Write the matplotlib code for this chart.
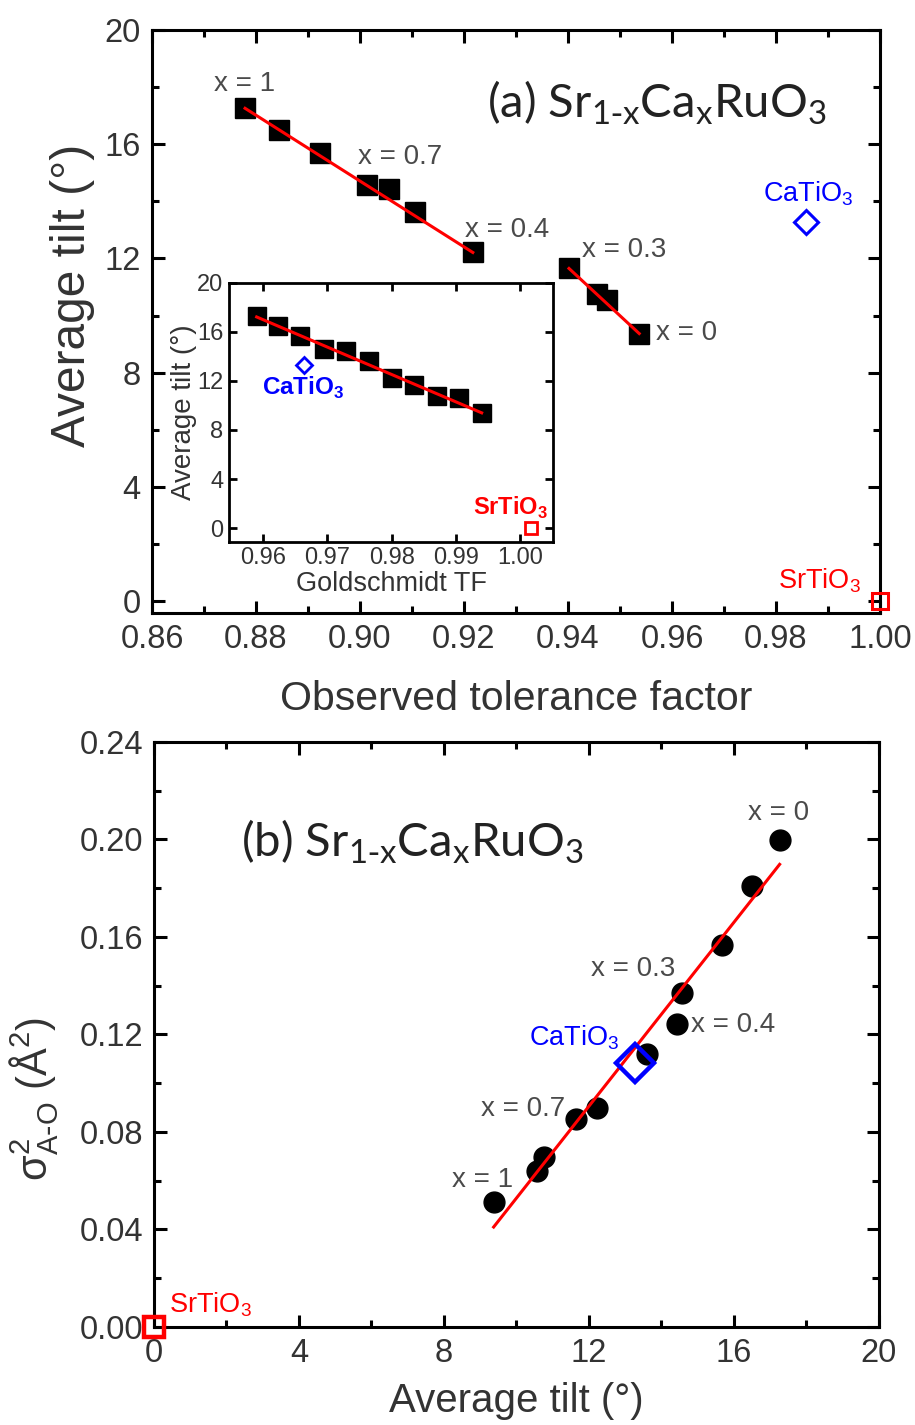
import matplotlib
matplotlib.use("Agg")
import matplotlib.pyplot as plt
from matplotlib.ticker import MultipleLocator

plt.rcParams['font.family'] = ['Liberation Sans', 'DejaVu Sans']

# Sr1-xCaxRuO3 series (x = 1 ... x = 0)
obs_tf = [0.8779, 0.8844, 0.8923, 0.9013, 0.9056, 0.9106, 0.9217, 0.9402, 0.9456, 0.9475, 0.9537]
tilt = [17.26, 16.49, 15.68, 14.56, 14.42, 13.61, 12.21, 11.65, 10.77, 10.56, 9.37]
gold_tf = [0.9591, 0.9623, 0.9658, 0.9695, 0.9729, 0.9764, 0.9800, 0.9835, 0.9870, 0.9904, 0.9940]
sigma2 = [0.1998, 0.1811, 0.1569, 0.1371, 0.1244, 0.1121, 0.0898, 0.0853, 0.0699, 0.0639, 0.0512]

# reference compounds
catio3_otf, catio3_gtf, catio3_tilt, catio3_sig = 0.9858, 0.9663, 13.26, 0.1085
srtio3_otf, srtio3_gtf, srtio3_tilt, srtio3_sig = 1.000, 1.0016, 0.0, 0.0

# linear fit segments (end points)
fit1_x, fit1_y = [0.8779, 0.9217], [17.26, 12.21]
fit2_x, fit2_y = [0.9402, 0.9537], [11.65, 9.37]
fit_in_x, fit_in_y = [0.959, 0.994], [17.2, 9.39]
fit_b_x, fit_b_y = [9.37, 17.26], [0.041, 0.1898]

TXT = '#333333'
ANN = '#4a4a4a'
SUB_1X = r'$_\mathregular{1\text{-}x}$'


def style_axes(ax, lw=2.2, lsize=23.5, major=9, minor=5):
    for s in ax.spines.values():
        s.set_linewidth(lw)
    ax.tick_params(which='both', direction='in', top=True, right=True,
                   width=lw, labelsize=lsize, labelcolor=TXT)
    ax.tick_params(which='major', length=major, pad=8)
    ax.tick_params(which='minor', length=minor)


fig = plt.figure(figsize=(9.15, 14.25), dpi=100)

# ---------------- panel (a) ----------------
ax1 = fig.add_axes([0.1661, 0.5698, 0.7956, 0.4091])
ax1.plot(obs_tf, tilt, 's', color='black', ms=14.4, zorder=3)
ax1.plot(fit1_x, fit1_y, '-', color='red', lw=2.2, zorder=4)
ax1.plot(fit2_x, fit2_y, '-', color='red', lw=2.2, zorder=4)
ax1.plot(catio3_otf, catio3_tilt, 'D', mfc='none', mec='blue', ms=12.5, mew=2.2)
ax1.plot(srtio3_otf, srtio3_tilt, 's', mfc='none', mec='red', ms=12, mew=2.2,
         clip_on=False, zorder=5)
ax1.set_xlim(0.86, 1.00)
ax1.set_ylim(-0.42, 20)
ax1.xaxis.set_major_locator(MultipleLocator(0.02))
ax1.xaxis.set_minor_locator(MultipleLocator(0.01))
ax1.yaxis.set_major_locator(MultipleLocator(4))
ax1.yaxis.set_minor_locator(MultipleLocator(2))
ax1.xaxis.set_major_formatter(lambda v, p: f'{v:.2f}')
style_axes(ax1)
ax1.set_xlabel('Observed tolerance factor', fontsize=29.5, color=TXT, labelpad=18)
ax1.set_ylabel('Average tilt (°)', fontsize=34.5, color=TXT)
ax1.yaxis.set_label_coords(-0.078, 0.545)

ax1.text(0.9244, 17.44, '(a) Sr' + SUB_1X + r'Ca$_\mathregular{x}$RuO$_\mathregular{3}$',
         fontsize=34, family='Lato', color='#222222', ha='left', va='center')
for s, x, y, ha in [('x = 1', 0.8779, 18.1, 'center'), ('x = 0.7', 0.9077, 15.54, 'center'),
                    ('x = 0.4', 0.9283, 12.98, 'center'), ('x = 0.3', 0.9508, 12.28, 'center'),
                    ('x = 0', 0.9569, 9.4, 'left')]:
    ax1.text(x, y, s, fontsize=20, color=ANN, ha=ha, va='center')
ax1.text(0.9862, 14.28, r'CaTiO$_\mathregular{3}$', fontsize=19.5, color='blue', ha='center', va='center')
ax1.text(0.9883, 0.7, r'SrTiO$_\mathregular{3}$', fontsize=19.5, color='red', ha='center', va='center')

# ---------------- inset ----------------
axi = fig.add_axes([0.2503, 0.6199, 0.3541, 0.1818])
axi.plot(gold_tf, tilt, 's', color='black', ms=13, zorder=3)
axi.plot(fit_in_x, fit_in_y, '-', color='red', lw=2.2, zorder=4)
axi.plot(catio3_gtf, catio3_tilt, 'D', mfc='none', mec='blue', ms=8, mew=2)
axi.plot(srtio3_gtf, srtio3_tilt, 's', mfc='none', mec='red', ms=9, mew=2)
axi.set_xlim(0.9547, 1.0051)
axi.set_ylim(-1.1, 20)
axi.xaxis.set_major_locator(MultipleLocator(0.01))
axi.yaxis.set_major_locator(MultipleLocator(4))
axi.xaxis.set_major_formatter(lambda v, p: f'{v:.2f}')
style_axes(axi, lw=2.0, lsize=17, major=6)
axi.tick_params(which='major', pad=4)
axi.set_xlabel('Goldschmidt TF', fontsize=19.5, color=TXT, labelpad=1)
axi.set_ylabel('Average tilt (°)', fontsize=20, color=TXT, labelpad=0)
axi.text(0.9663, 11.45, r'CaTiO$_\mathregular{3}$', fontsize=17.5, fontweight='bold',
         color='blue', ha='center', va='center')
axi.text(0.9985, 1.66, r'SrTiO$_\mathregular{3}$', fontsize=17, fontweight='bold',
         color='red', ha='center', va='center')

# ---------------- panel (b) ----------------
ax2 = fig.add_axes([0.1683, 0.0688, 0.7923, 0.4105])
ax2.plot(tilt, sigma2, 'o', color='black', ms=15, zorder=3)
ax2.plot(fit_b_x, fit_b_y, '-', color='red', lw=2.2, zorder=4)
ax2.plot(catio3_tilt, catio3_sig, 'D', mfc='none', mec='blue', ms=19, mew=3.2, zorder=5)
ax2.plot(srtio3_tilt, srtio3_sig, 's', mfc='none', mec='red', ms=14, mew=3.2,
         clip_on=False, zorder=5)
ax2.set_xlim(0, 20)
ax2.set_ylim(0, 0.24)
ax2.xaxis.set_major_locator(MultipleLocator(4))
ax2.xaxis.set_minor_locator(MultipleLocator(2))
ax2.yaxis.set_major_locator(MultipleLocator(0.04))
ax2.yaxis.set_minor_locator(MultipleLocator(0.02))
ax2.yaxis.set_major_formatter(lambda v, p: f'{v:.2f}')
style_axes(ax2)
ax2.set_xlabel('Average tilt (°)', fontsize=29, color=TXT, labelpad=9)
ax2.set_ylabel(r'σ$^\mathregular{2}_\mathregular{A\text{-}O}$ (Å$^\mathregular{2}$)', fontsize=30,
               color=TXT)
ax2.yaxis.set_label_coords(-0.128, 0.39)

ax2.text(2.39, 0.199, '(b) Sr' + SUB_1X + r'Ca$_\mathregular{x}$RuO$_\mathregular{3}$',
         fontsize=34, family='Lato', color='#222222', ha='left', va='center')
for s, x, y, ha in [('x = 0', 17.23, 0.211, 'center'), ('x = 0.3', 13.23, 0.1468, 'center'),
                    ('x = 0.4', 14.81, 0.1239, 'left'), ('x = 0.7', 10.17, 0.0895, 'center'),
                    ('x = 1', 9.07, 0.0601, 'center')]:
    ax2.text(x, y, s, fontsize=20, color=ANN, ha=ha, va='center')
ax2.text(11.60, 0.1186, r'CaTiO$_\mathregular{3}$', fontsize=19.5, color='blue', ha='center', va='center')
ax2.text(0.41, 0.009, r'SrTiO$_\mathregular{3}$', fontsize=19.5, color='red', ha='left', va='center')

fig.savefig('out.png', dpi=100)
